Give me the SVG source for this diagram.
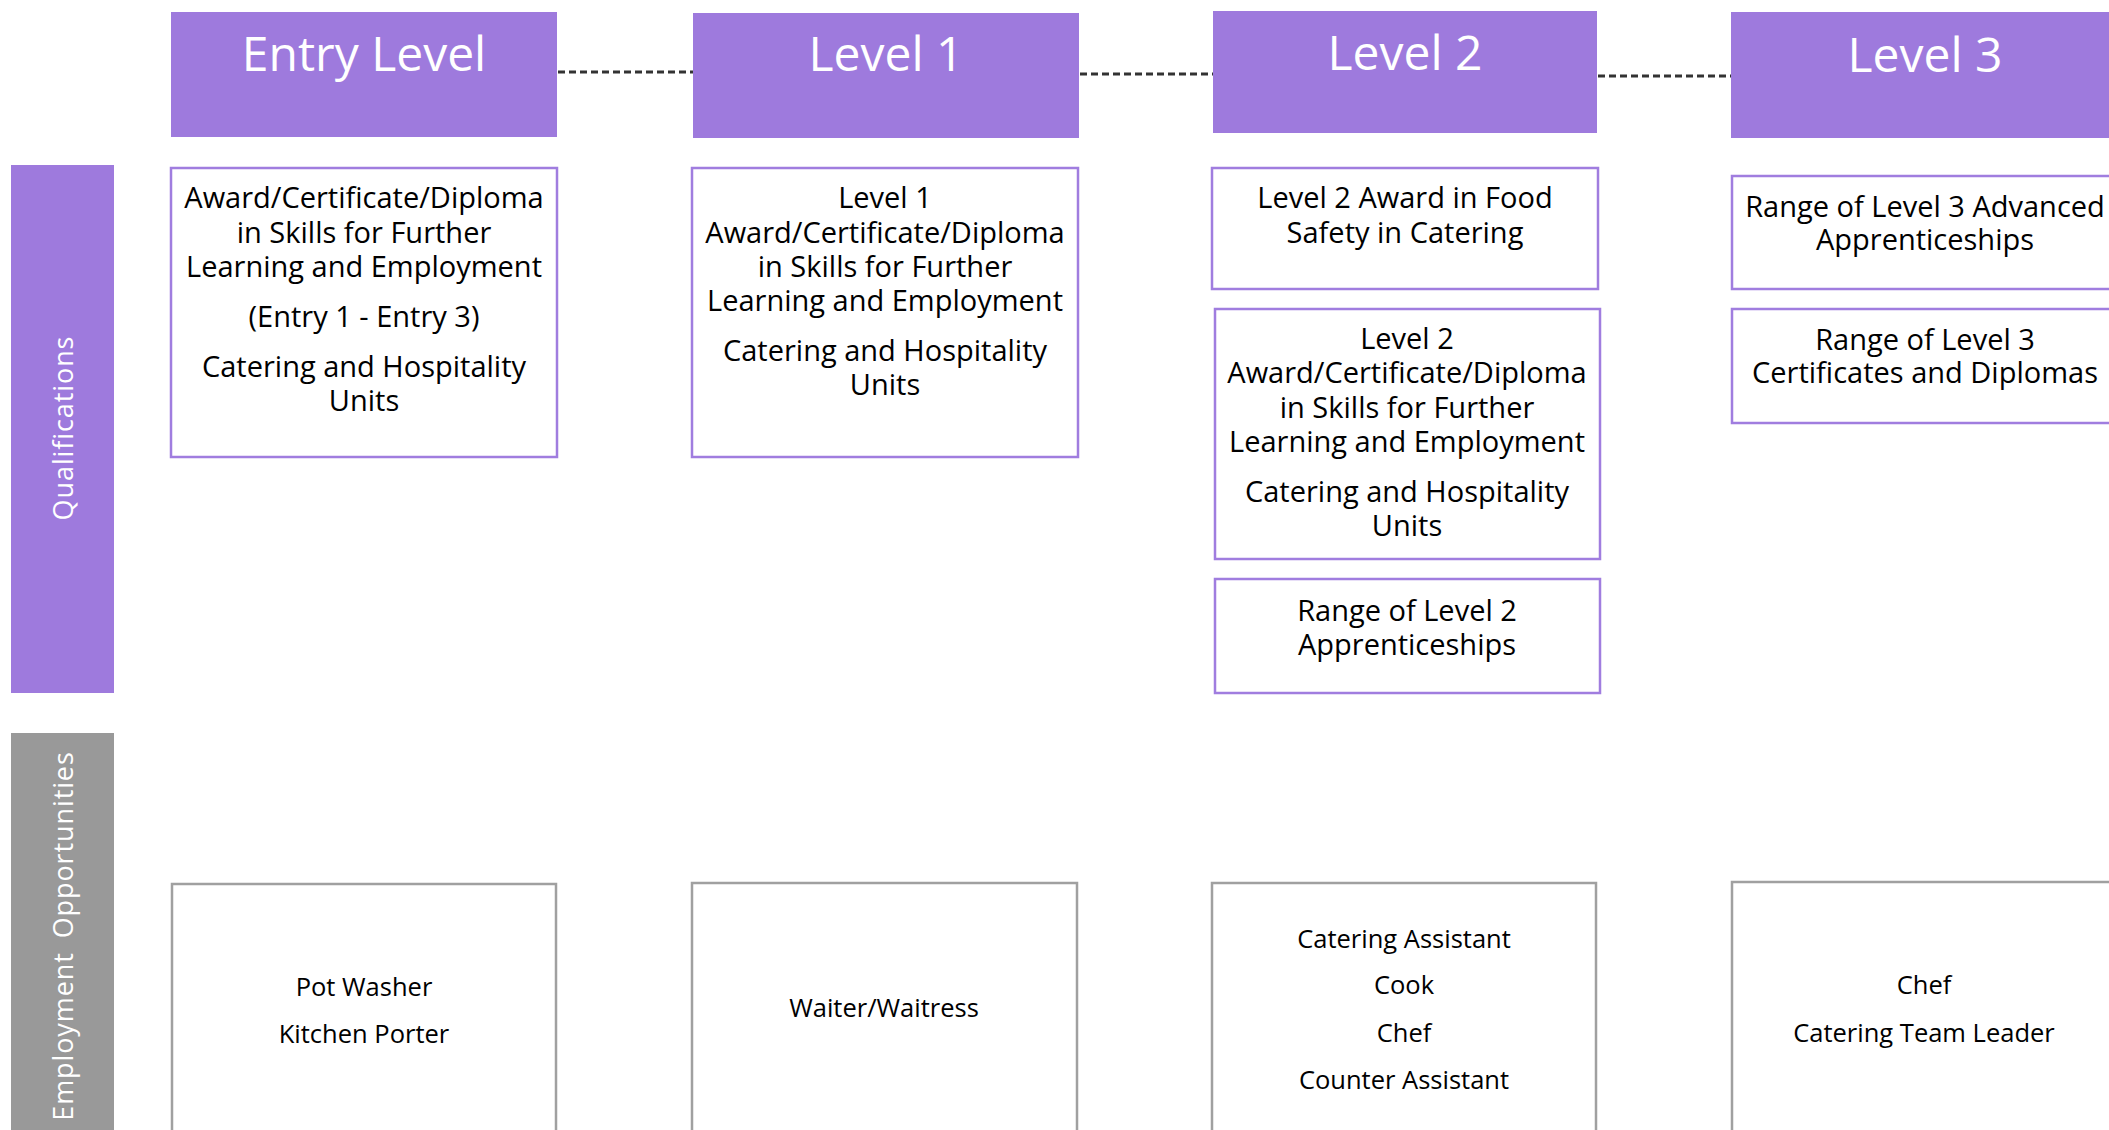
<svg xmlns="http://www.w3.org/2000/svg" width="2109" height="1130" viewBox="0 0 2109 1130">
  <style>
    .head { fill: #9e7add; }
    .head-text { font-family: "Open Sans", "Noto Sans", sans-serif; font-size: 48px; fill: #ffffff; text-anchor: middle; }
    .qual { fill: #ffffff; stroke: #a07ddf; stroke-width: 2.5; }
    .job { fill: #ffffff; stroke: #a0a0a0; stroke-width: 2.5; }
    .q-text { font-family: "Open Sans", "Noto Sans", sans-serif; font-size: 29px; fill: #000000; text-anchor: middle; }
    .j-text { font-family: "Open Sans", "Noto Sans", sans-serif; font-size: 25.5px; fill: #000000; text-anchor: middle; }
    .side-text { font-family: "Open Sans", "Noto Sans", sans-serif; font-size: 27px; fill: #ffffff; text-anchor: middle; letter-spacing: 0.9px; }
    .link { stroke: #333333; stroke-width: 3; stroke-dasharray: 7 4; fill: none; }
  </style>

  <!-- row labels -->
  <g id="row-qualifications">
    <rect x="11" y="165" width="103" height="528" fill="#9e7add"/>
    <text class="side-text" transform="translate(73,428) rotate(-90)">Qualifications</text>
  </g>
  <g id="row-employment">
    <rect x="11" y="733" width="103" height="400" fill="#999999"/>
    <text class="side-text" transform="translate(73,936) rotate(-90)" word-spacing="6">Employment Opportunities</text>
  </g>

  <!-- dashed links between level headers -->
  <g id="connectors">
    <line class="link" x1="558" y1="72" x2="693" y2="72"/>
    <line class="link" x1="1080" y1="74" x2="1213" y2="74"/>
    <line class="link" x1="1598" y1="76" x2="1731" y2="76"/>
  </g>

  <!-- level headers -->
  <g id="head-entry">
    <rect class="head" x="171" y="12" width="386" height="125"/>
    <text class="head-text" x="364" y="71">Entry Level</text>
  </g>
  <g id="head-level1">
    <rect class="head" x="693" y="13" width="386" height="125"/>
    <text class="head-text" x="886" y="71">Level 1</text>
  </g>
  <g id="head-level2">
    <rect class="head" x="1213" y="11" width="384" height="122"/>
    <text class="head-text" x="1405" y="70">Level 2</text>
  </g>
  <g id="head-level3">
    <rect class="head" x="1731" y="12" width="390" height="126"/>
    <text class="head-text" x="1925" y="72">Level 3</text>
  </g>

  <!-- qualifications -->
  <g id="qual-entry">
    <rect class="qual" x="171" y="168" width="386" height="289"/>
    <text class="q-text" x="364" y="208">Award/Certificate/Diploma</text>
    <text class="q-text" x="364" y="243">in Skills for Further</text>
    <text class="q-text" x="364" y="277">Learning and Employment</text>
    <text class="q-text" x="364" y="327">(Entry 1 - Entry 3)</text>
    <text class="q-text" x="364" y="377">Catering and Hospitality</text>
    <text class="q-text" x="364" y="411">Units</text>
  </g>
  <g id="qual-level1">
    <rect class="qual" x="692" y="168" width="386" height="289"/>
    <text class="q-text" x="885" y="208">Level 1</text>
    <text class="q-text" x="885" y="243">Award/Certificate/Diploma</text>
    <text class="q-text" x="885" y="277">in Skills for Further</text>
    <text class="q-text" x="885" y="311">Learning and Employment</text>
    <text class="q-text" x="885" y="361">Catering and Hospitality</text>
    <text class="q-text" x="885" y="395">Units</text>
  </g>
  <g id="qual-level2-food">
    <rect class="qual" x="1212" y="168" width="386" height="121"/>
    <text class="q-text" x="1405" y="208">Level 2 Award in Food</text>
    <text class="q-text" x="1405" y="243">Safety in Catering</text>
  </g>
  <g id="qual-level2-skills">
    <rect class="qual" x="1215" y="309" width="385" height="250"/>
    <text class="q-text" x="1407" y="349">Level 2</text>
    <text class="q-text" x="1407" y="383">Award/Certificate/Diploma</text>
    <text class="q-text" x="1407" y="418">in Skills for Further</text>
    <text class="q-text" x="1407" y="452">Learning and Employment</text>
    <text class="q-text" x="1407" y="502">Catering and Hospitality</text>
    <text class="q-text" x="1407" y="536">Units</text>
  </g>
  <g id="qual-level2-apprenticeships">
    <rect class="qual" x="1215" y="579" width="385" height="114"/>
    <text class="q-text" x="1407" y="621">Range of Level 2</text>
    <text class="q-text" x="1407" y="655">Apprenticeships</text>
  </g>
  <g id="qual-level3-apprenticeships">
    <rect class="qual" x="1732" y="176" width="390" height="113"/>
    <text class="q-text" x="1925" y="217">Range of Level 3 Advanced</text>
    <text class="q-text" x="1925" y="250">Apprenticeships</text>
  </g>
  <g id="qual-level3-diplomas">
    <rect class="qual" x="1732" y="309" width="390" height="114"/>
    <text class="q-text" x="1925" y="350">Range of Level 3</text>
    <text class="q-text" x="1925" y="383">Certificates and Diplomas</text>
  </g>

  <!-- employment opportunities -->
  <g id="job-entry">
    <rect class="job" x="172" y="884" width="384" height="260"/>
    <text class="j-text" x="364" y="996">Pot Washer</text>
    <text class="j-text" x="364" y="1043">Kitchen Porter</text>
  </g>
  <g id="job-level1">
    <rect class="job" x="692" y="883" width="385" height="260"/>
    <text class="j-text" x="884" y="1017">Waiter/Waitress</text>
  </g>
  <g id="job-level2">
    <rect class="job" x="1212" y="883" width="384" height="260"/>
    <text class="j-text" x="1404" y="948">Catering Assistant</text>
    <text class="j-text" x="1404" y="994">Cook</text>
    <text class="j-text" x="1404" y="1042">Chef</text>
    <text class="j-text" x="1404" y="1089">Counter Assistant</text>
  </g>
  <g id="job-level3">
    <rect class="job" x="1732" y="882" width="390" height="260"/>
    <text class="j-text" x="1924" y="994">Chef</text>
    <text class="j-text" x="1924" y="1042">Catering Team Leader</text>
  </g>
</svg>
